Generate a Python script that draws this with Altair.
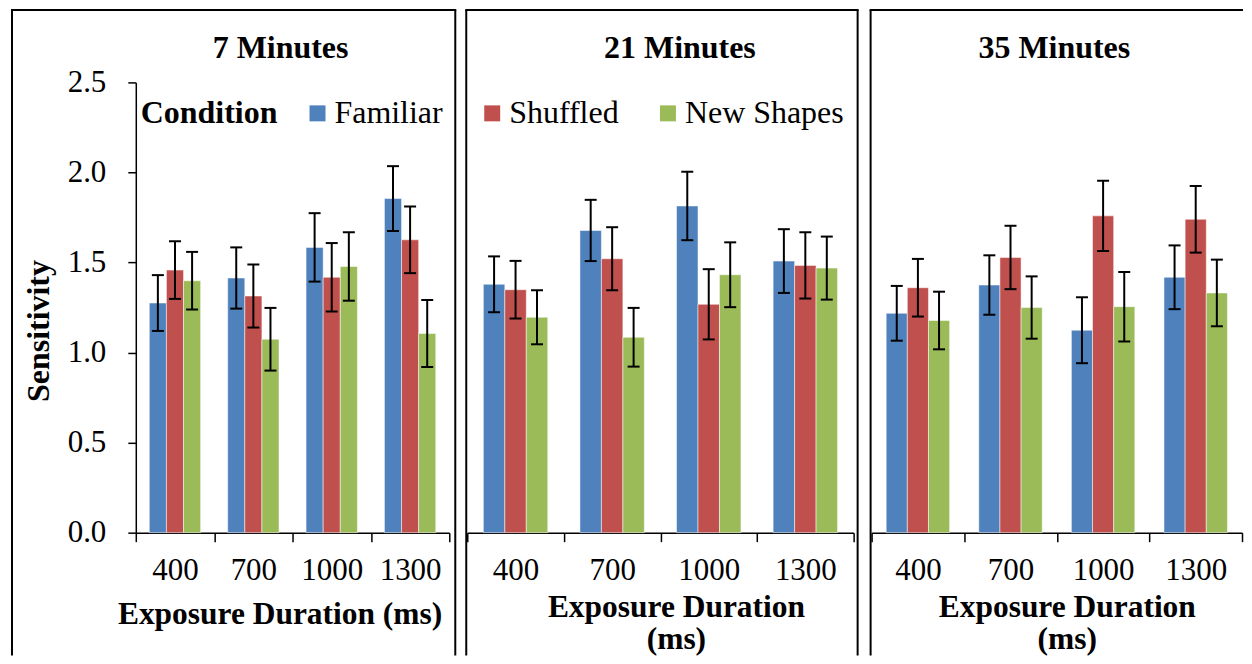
import altair as alt
import pandas as pd

panels = ["7 Minutes", "21 Minutes", "35 Minutes"]
durations = ["400", "700", "1000", "1300"]
conditions = ["Familiar", "Shuffled", "New Shapes"]
colors = ["#4F81BD", "#C0504D", "#9BBB59"]

familiar_7 = [1.275, 1.414, 1.584, 1.855]
familiar_7_err = [0.155, 0.17, 0.19, 0.18]
shuffled_7 = [1.458, 1.314, 1.418, 1.626]
shuffled_7_err = [0.16, 0.175, 0.19, 0.185]
new_7 = [1.399, 1.074, 1.478, 1.106]
new_7_err = [0.16, 0.174, 0.19, 0.186]

familiar_21 = [1.379, 1.678, 1.814, 1.508]
familiar_21_err = [0.155, 0.17, 0.19, 0.177]
shuffled_21 = [1.349, 1.521, 1.268, 1.484]
shuffled_21_err = [0.16, 0.175, 0.195, 0.184]
new_21 = [1.196, 1.085, 1.432, 1.469]
new_21_err = [0.15, 0.163, 0.18, 0.175]

familiar_35 = [1.218, 1.375, 1.124, 1.418]
familiar_35_err = [0.152, 0.165, 0.183, 0.177]
shuffled_35 = [1.360, 1.528, 1.759, 1.740]
shuffled_35_err = [0.16, 0.176, 0.195, 0.185]
new_35 = [1.178, 1.250, 1.255, 1.331]
new_35_err = [0.16, 0.173, 0.193, 0.185]

y_ticks = [0.0, 0.5, 1.0, 1.5, 2.0, 2.5]
y_title = "Sensitivity"
legend_title = "Condition"
x_title_single = "Exposure Duration (ms)"
x_title_split = ["Exposure Duration", "(ms)"]

table = {
    "7 Minutes": [(familiar_7, familiar_7_err), (shuffled_7, shuffled_7_err), (new_7, new_7_err)],
    "21 Minutes": [(familiar_21, familiar_21_err), (shuffled_21, shuffled_21_err), (new_21, new_21_err)],
    "35 Minutes": [(familiar_35, familiar_35_err), (shuffled_35, shuffled_35_err), (new_35, new_35_err)],
}

rows = []
for p in panels:
    for c, (vals, errs) in zip(conditions, table[p]):
        for d, v, e in zip(durations, vals, errs):
            rows.append({"panel": p, "duration": d, "condition": c,
                         "value": v, "lo": v - e, "hi": v + e})
df = pd.DataFrame(rows)

FONT = "Liberation Serif"
PLOT_H = 451
TOP = -72.5
BOTTOM = 574

specs = [
    dict(width=314, pad=0.79, title_dx=-12, xtitle=x_title_single, xtx=144, xty=90.5,
         left=-124, right=320),
    dict(width=387, pad=0.75, title_dx=19.5, xtitle=x_title_split, xtx=209, xty=83.5,
         left=-1, right=391),
    dict(width=371, pad=0.69, title_dx=-2.5, xtitle=x_title_split, xtx=195.5, xty=83.5,
         left=-1, right=None),
]

y_axis = alt.Axis(values=y_ticks, format=".1f", title=y_title, titleFontSize=32,
                  titleFontWeight="bold", titleX=-97, titleY=248.5, titleAngle=270,
                  titleBaseline="middle", titleAlign="center", labelFontSize=31,
                  labelPadding=22, tickSize=8, tickWidth=1.5, domainWidth=1.5, grid=False)

legend = alt.Legend(orient="none", legendX=5, legendY=15, direction="horizontal",
                    title=legend_title, titleOrient="left", titleFontSize=32,
                    titleFontWeight="bold", titleFont=FONT, titleColor="black",
                    titlePadding=24, titleLimit=400, labelFontSize=32, labelFont=FONT,
                    labelColor="black", labelLimit=400, labelOffset=1,
                    symbolType="square", symbolSize=256, symbolStrokeWidth=0,
                    columnPadding=33, gridAlign="none", padding=0)


def make_panel(i):
    s = specs[i]
    first = i == 0
    d = df[df.panel == panels[i]]
    base = alt.Chart(d)
    x = alt.X("duration:N", sort=durations,
              scale=alt.Scale(domain=durations, paddingInner=0, paddingOuter=0),
              axis=alt.Axis(title=s["xtitle"], titleFontSize=31.5, titleFontWeight="bold",
                            titleX=s["xtx"], titleY=s["xty"], titleBaseline="alphabetic",
                            titleAlign="center", titleLineHeight=33, labelFontSize=31,
                            labelAngle=0, labelPadding=14, tickSize=9, tickWidth=1.5,
                            domainWidth=1.5, tickBand="extent", grid=False))
    xo = alt.XOffset("condition:N", sort=conditions,
                     scale=alt.Scale(domain=conditions, paddingInner=0, paddingOuter=s["pad"]))

    def yenc(field):
        return alt.Y(f"{field}:Q", scale=alt.Scale(domain=[0, 2.5], nice=False, zero=True),
                     axis=y_axis if first else None)

    color = alt.Color("condition:N", sort=conditions,
                      scale=alt.Scale(domain=conditions, range=colors),
                      legend=legend if first else None)

    bars = base.mark_bar(stroke="white", strokeWidth=1, strokeOpacity=0.5).encode(
        x=x, xOffset=xo, y=yenc("value"), color=color)
    err = base.mark_rule(color="black", strokeWidth=2).encode(
        x=x, xOffset=xo, y=yenc("lo"), y2="hi:Q")
    cap_lo = base.mark_tick(color="black", thickness=2, size=12, opacity=1).encode(
        x=x, xOffset=xo, y=yenc("lo"))
    cap_hi = base.mark_tick(color="black", thickness=2, size=12, opacity=1).encode(
        x=x, xOffset=xo, y=yenc("hi"))

    bd = alt.Chart(pd.DataFrame({"k": [0]}))
    right_end = s["right"] if s["right"] is not None else s["width"]
    borders = [
        bd.mark_rule(color="black", strokeWidth=2).encode(
            x=alt.value(s["left"]), y=alt.value(TOP), y2=alt.value(BOTTOM)),
        bd.mark_rule(color="black", strokeWidth=2).encode(
            x=alt.value(s["left"] - 1), x2=alt.value(right_end + 1), y=alt.value(TOP)),
    ]
    if s["right"] is not None:
        borders.append(bd.mark_rule(color="black", strokeWidth=2).encode(
            x=alt.value(s["right"]), y=alt.value(TOP), y2=alt.value(BOTTOM)))

    return alt.layer(*borders, bars, err, cap_lo, cap_hi).properties(
        width=s["width"], height=PLOT_H,
        title=alt.TitleParams(text=panels[i], fontSize=32, font=FONT, fontWeight="bold",
                              color="black", anchor="middle", frame="group",
                              offset=-81.5, dx=s["title_dx"], baseline="alphabetic"))


chart = alt.hconcat(make_panel(0), make_panel(1), make_panel(2), spacing=18, bounds="flush")
chart = chart.resolve_scale(color="independent", xOffset="independent",
                            x="independent", y="independent").resolve_legend(color="independent")
chart = chart.properties(padding={"left": 2, "top": 0, "right": 0, "bottom": 0})
chart = chart.configure(font=FONT).configure_view(stroke=None).configure_axis(
    labelColor="black", titleColor="black", domainColor="black", tickColor="black",
    labelFont=FONT, titleFont=FONT)

chart.save("out.html", embed_options={"renderer": "svg", "actions": False})
